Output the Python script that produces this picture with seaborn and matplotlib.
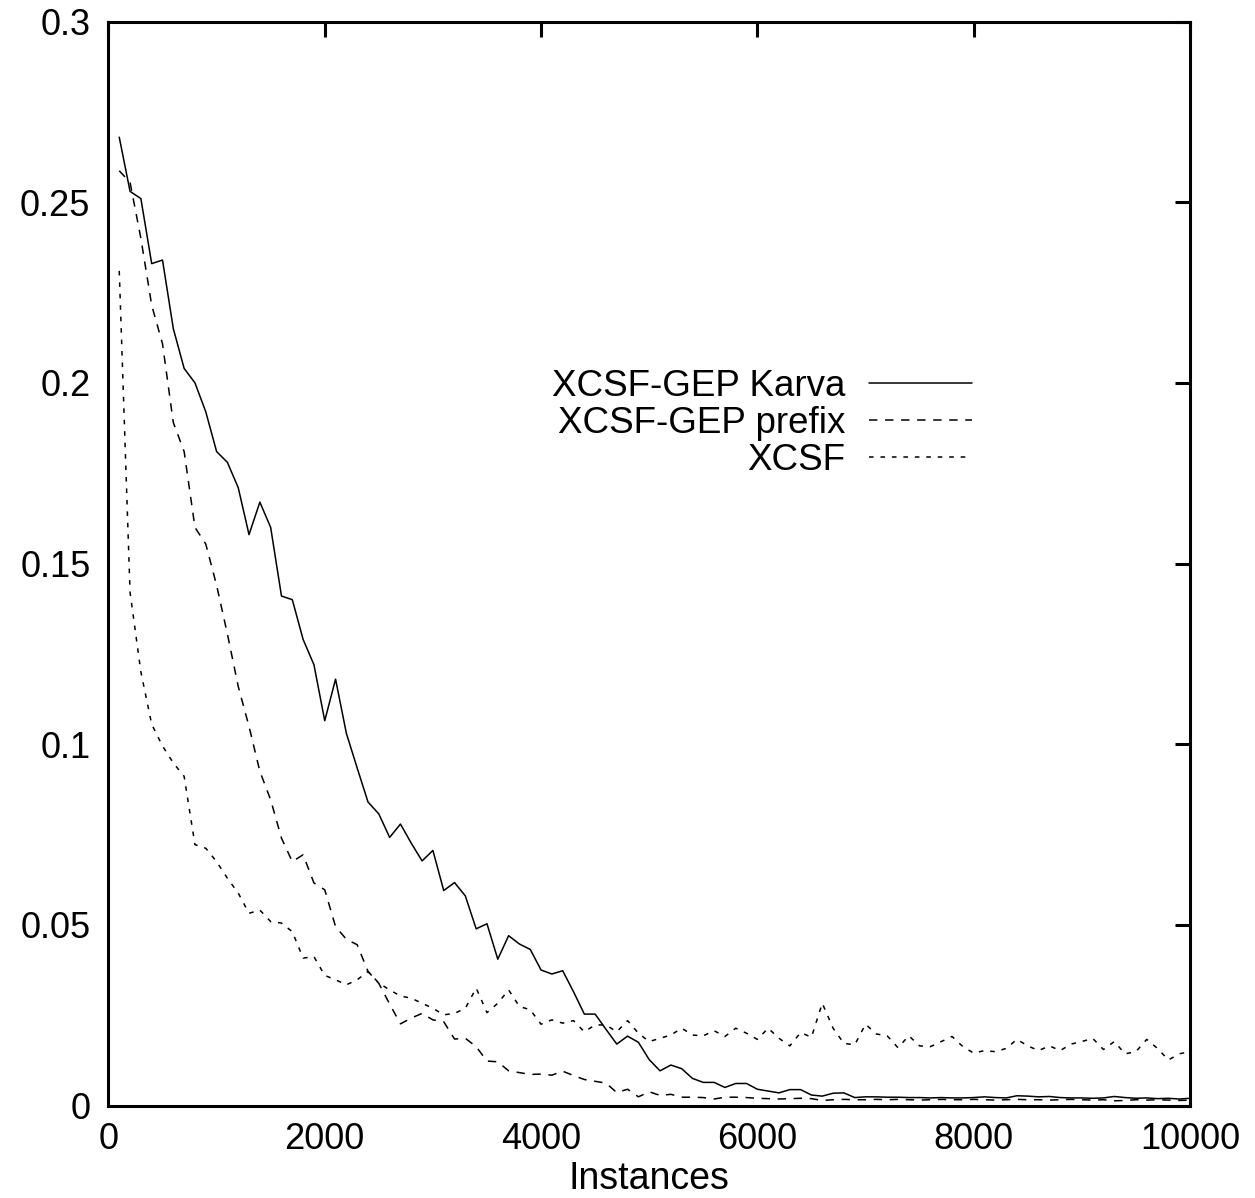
import numpy as np
import pandas as pd
import matplotlib
matplotlib.use("Agg")
import matplotlib.pyplot as plt
import seaborn as sns

# Sampled every 100 instances, 100 .. 10000
instances = np.arange(100, 10001, 100)

karva = [
    0.268, 0.253, 0.251, 0.233, 0.234, 0.215, 0.204, 0.200, 0.192, 0.181,
    0.178, 0.171, 0.158, 0.167, 0.160, 0.141, 0.140, 0.129, 0.122, 0.1065,
    0.118, 0.103, 0.0934, 0.084, 0.0807, 0.0742, 0.0779, 0.0726, 0.0677, 0.0706,
    0.0595, 0.0617, 0.058, 0.0489, 0.0503, 0.0405, 0.047, 0.0447, 0.0432, 0.0375,
    0.0364, 0.0373, 0.0315, 0.0253, 0.0253, 0.0211, 0.0170, 0.0192, 0.0175, 0.0127,
    0.0096, 0.0112, 0.0102, 0.0075, 0.0064, 0.0064, 0.0050, 0.0061, 0.0061, 0.0045,
    0.0040, 0.0035, 0.0044, 0.0044, 0.0029, 0.0026, 0.0034, 0.0035, 0.0022, 0.0024,
    0.0024, 0.0023, 0.0023, 0.0022, 0.0022, 0.0021, 0.0022, 0.0021, 0.0021, 0.0022,
    0.0024, 0.0022, 0.0021, 0.0027, 0.0026, 0.0024, 0.0025, 0.0022, 0.0021, 0.0021,
    0.0020, 0.0021, 0.0025, 0.0022, 0.0020, 0.0021, 0.0019, 0.0020, 0.0018, 0.0020,
]

prefix = [
    0.2587, 0.2555, 0.240, 0.2215, 0.2108, 0.189, 0.181, 0.160, 0.1554, 0.144,
    0.1305, 0.116, 0.1049, 0.0925, 0.0846, 0.074, 0.0675, 0.0694, 0.0616, 0.0597,
    0.0495, 0.046, 0.0445, 0.0371, 0.0338, 0.0281, 0.0226, 0.0242, 0.0255, 0.0237,
    0.0232, 0.0184, 0.0186, 0.0163, 0.0123, 0.0121, 0.0096, 0.0091, 0.0086, 0.0087,
    0.0084, 0.0095, 0.0083, 0.0072, 0.0067, 0.0062, 0.0036, 0.0045, 0.0024, 0.0038,
    0.0028, 0.0031, 0.0023, 0.0023, 0.0022, 0.0018, 0.0023, 0.0023, 0.0022, 0.0020,
    0.0019, 0.0018, 0.0019, 0.0020, 0.0019, 0.0014, 0.0016, 0.0017, 0.0016, 0.0016,
    0.0017, 0.0016, 0.0017, 0.0016, 0.0015, 0.0016, 0.0017, 0.0016, 0.0016, 0.0017,
    0.0016, 0.0015, 0.0016, 0.0017, 0.0016, 0.0016, 0.0015, 0.0016, 0.0017, 0.0016,
    0.0015, 0.0016, 0.0013, 0.0014, 0.0016, 0.0015, 0.0016, 0.0015, 0.0014, 0.0015,
]

xcsf = [
    0.231, 0.142, 0.120, 0.1055, 0.0995, 0.0948, 0.0911, 0.0722, 0.0712, 0.0675,
    0.0629, 0.0588, 0.0532, 0.0541, 0.0509, 0.0505, 0.0481, 0.0408, 0.0412, 0.036,
    0.0348, 0.0334, 0.0348, 0.0371, 0.0339, 0.0320, 0.0303, 0.0297, 0.0283, 0.0269,
    0.0251, 0.0255, 0.0269, 0.0325, 0.0257, 0.0283, 0.0320, 0.0274, 0.0265, 0.0225,
    0.0237, 0.0228, 0.0235, 0.0204, 0.0223, 0.0223, 0.0204, 0.0235, 0.0200, 0.0177,
    0.0186, 0.0195, 0.0214, 0.0195, 0.0193, 0.0207, 0.0191, 0.0214, 0.0200, 0.0183,
    0.0214, 0.0186, 0.0165, 0.0202, 0.0189, 0.0283, 0.0214, 0.0172, 0.0168, 0.0225,
    0.0198, 0.0193, 0.0160, 0.0193, 0.0165, 0.0163, 0.0177, 0.0191, 0.0163, 0.0145,
    0.0152, 0.0149, 0.0158, 0.0183, 0.0165, 0.0152, 0.0165, 0.0152, 0.0170, 0.0177,
    0.0186, 0.0155, 0.0177, 0.0143, 0.0149, 0.0183, 0.0158, 0.0126, 0.0143, 0.0149,
]

series_names = ['XCSF-GEP Karva', 'XCSF-GEP prefix', 'XCSF']
x_ticks = [0, 2000, 4000, 6000, 8000, 10000]
y_ticks = [0, 0.05, 0.1, 0.15, 0.2, 0.25, 0.3]
y_tick_labels = ['0', '0.05', '0.1', '0.15', '0.2', '0.25', '0.3']

sns.set_theme(style="white")
plt.rcParams['font.family'] = ['Liberation Sans', 'DejaVu Sans']
plt.rcParams['text.color'] = 'black'
plt.rcParams['axes.labelcolor'] = 'black'

fig = plt.figure(figsize=(12.55, 11.98), dpi=100)
ax = fig.add_axes([0.0864, 0.0772, 0.9482 - 0.0864, 0.982 - 0.0772])

styles = [
    '-',
    (0, (5.5, 5.0)),
    (0, (3.0, 4.5)),
]
for name, values, ls in zip(series_names, [karva, prefix, xcsf], styles):
    df = pd.DataFrame({'Instances': instances, 'value': values})
    sns.lineplot(data=df, x='Instances', y='value', ax=ax, color='black',
                 linewidth=1.1, linestyle=ls, label=name)

ax.set_xlim(0, 10000)
ax.set_ylim(0, 0.3)
ax.set_xticks(x_ticks)
ax.set_xticklabels([str(t) for t in x_ticks])
ax.set_yticks(y_ticks)
ax.set_yticklabels(y_tick_labels)
ax.tick_params(direction='in', length=11, width=2.2, labelsize=26,
               top=True, right=True, colors='black')
ax.tick_params(axis='y', pad=13)
ax.tick_params(axis='x', pad=12)
for spine in ax.spines.values():
    spine.set_linewidth(2.2)
    spine.set_color('black')

ax.set_xlabel('Instances', fontsize=27, labelpad=3)
ax.set_ylabel('')

leg = ax.legend(loc='upper right', bbox_to_anchor=(0.812, 0.693), frameon=False,
                markerfirst=False, fontsize=26.5, handlelength=2.8,
                handletextpad=0.65, labelspacing=0.05, borderaxespad=0)
for t in leg.get_texts():
    t.set_color('black')

fig.savefig('out.png', dpi=100)
plt.close(fig)
